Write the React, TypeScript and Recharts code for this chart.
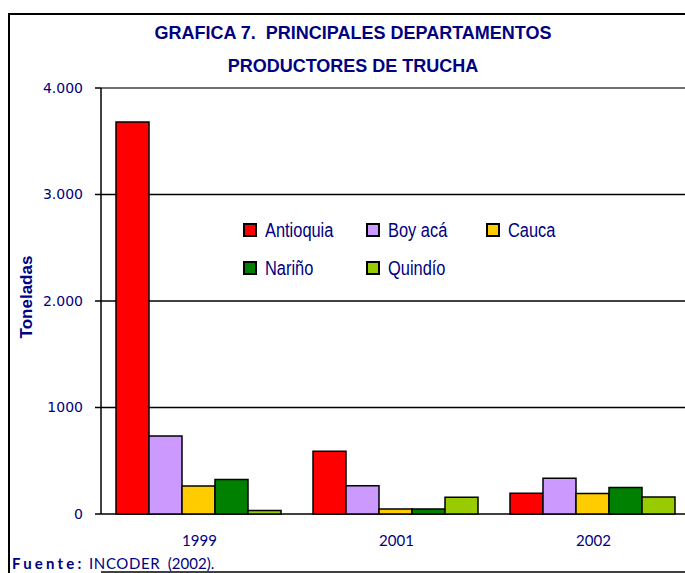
import { Bar, BarChart, CartesianGrid, ReferenceLine, XAxis, YAxis } from "recharts"

const years = ["1999", "2001", "2002"]
const antioquia = [3680, 589, 196]
const boyaca = [733, 266, 336]
const cauca = [263, 47, 193]
const narino = [325, 47, 248]
const quindio = [34, 158, 160]

const departments = ["Antioquia", "Boyacá", "Cauca", "Nariño", "Quindío"]
const legendLabels = ["Antioquia", "Boy acá", "Cauca", "Nariño", "Quindío"]
const colors = ["#ff0000", "#cc99ff", "#ffcc00", "#008000", "#99cc00"]
const yTicks = [0, 1000, 2000, 3000, 4000]
const yTickLabels = ["0", "1000", "2.000", "3.000", "4.000"]
const edgeTicks = [0, 1, 2, 3]

const series = [antioquia, boyaca, cauca, narino, quindio]
const data = years.map((year, i) => {
  const row: Record<string, string | number> = { year, pos: i + 0.5 }
  departments.forEach((d, j) => {
    row[d] = series[j][i]
  })
  return row
})

const navy = "#000080"
const arial = "'Liberation Sans', Arial, sans-serif"

export default function App() {
  return (
    <div
      style={{
        position: "absolute",
        left: 0,
        top: 0,
        width: 685,
        height: 573,
        overflow: "hidden",
        background: "#fff",
      }}
    >
      <div
        style={{
          position: "absolute",
          left: 8,
          top: 13,
          width: 760,
          height: 640,
          border: "2px solid #000",
        }}
      />
      <div style={{ position: "absolute", left: 0, top: 0 }}>
        <BarChart
          width={720}
          height={573}
          data={data}
          margin={{ top: 88, right: 28, bottom: 0, left: 0 }}
          barCategoryGap={15}
          barGap={0}
        >
          <CartesianGrid vertical={false} stroke="#000" strokeWidth={1.3} />
          <ReferenceLine y={4000} stroke="#808080" strokeWidth={1.5} />
          <XAxis
            xAxisId="edge"
            type="number"
            dataKey="pos"
            domain={[0, 3]}
            ticks={edgeTicks}
            interval={0}
            tick={false}
            tickSize={5}
            tickLine={{ stroke: "#000", strokeWidth: 1.5 }}
            axisLine={{ stroke: "#000", strokeWidth: 1.5 }}
            height={1}
          />
          <XAxis
            dataKey="year"
            axisLine={false}
            tickLine={false}
            tickSize={0}
            tickMargin={21}
            height={58}
            tick={{ fill: navy, fontSize: 15, fontFamily: "Lato, sans-serif" }}
          />
          <YAxis
            domain={[0, 4000]}
            ticks={yTicks}
            interval={0}
            width={101}
            tickSize={6}
            tickMargin={12}
            tickFormatter={(v: number) => yTickLabels[yTicks.indexOf(v)]}
            axisLine={{ stroke: "#000", strokeWidth: 1.5 }}
            tickLine={{ stroke: "#000", strokeWidth: 1.5 }}
            tick={{ fill: navy, fontSize: 14, fontFamily: "'DejaVu Sans', sans-serif" }}
          />
          {departments.map((d, j) => (
            <Bar
              key={d}
              dataKey={d}
              fill={colors[j]}
              stroke="#000"
              strokeWidth={1.5}
              isAnimationActive={false}
            />
          ))}
        </BarChart>
      </div>

      <div
        style={{
          position: "absolute",
          left: 0,
          width: 706,
          top: 17,
          lineHeight: "33px",
          textAlign: "center",
          fontFamily: arial,
          fontWeight: "bold",
          fontSize: 18,
          color: navy,
          whiteSpace: "pre",
        }}
      >
        <div>GRAFICA 7.  PRINCIPALES DEPARTAMENTOS</div>
        <div>PRODUCTORES DE TRUCHA</div>
      </div>

      <div
        style={{
          position: "absolute",
          left: 27,
          top: 297,
          transform: "translate(-50%, -50%) rotate(-90deg)",
          fontFamily: arial,
          fontWeight: "bold",
          fontSize: 17,
          color: navy,
          whiteSpace: "nowrap",
        }}
      >
        Toneladas
      </div>

      {legendLabels.map((label, i) => (
        <div
          key={label}
          style={{
            position: "absolute",
            left: [243, 366, 486][i % 3],
            top: 219 + Math.floor(i / 3) * 38,
            height: 22,
            display: "flex",
            alignItems: "center",
            fontFamily: arial,
            fontSize: 20,
            color: navy,
            whiteSpace: "pre",
          }}
        >
          <span
            style={{
              display: "inline-block",
              width: 14,
              height: 14,
              boxSizing: "border-box",
              border: "2px solid #000",
              background: colors[i],
              marginRight: 8,
            }}
          />
          <span style={{ display: "inline-block", transform: "scaleX(0.82)", transformOrigin: "left center" }}>
            {label}
          </span>
        </div>
      ))}

      <div
        style={{
          position: "absolute",
          left: 12,
          top: 554,
          fontFamily: "Lato, sans-serif",
          fontSize: 15,
          color: navy,
          whiteSpace: "pre",
        }}
      >
        <span style={{ fontWeight: "bold", letterSpacing: 3.2 }}>Fuente:</span>
        <span style={{ letterSpacing: 0.6 }}> INCODER</span>
        <span>  (2002).</span>
      </div>
    </div>
  )
}
